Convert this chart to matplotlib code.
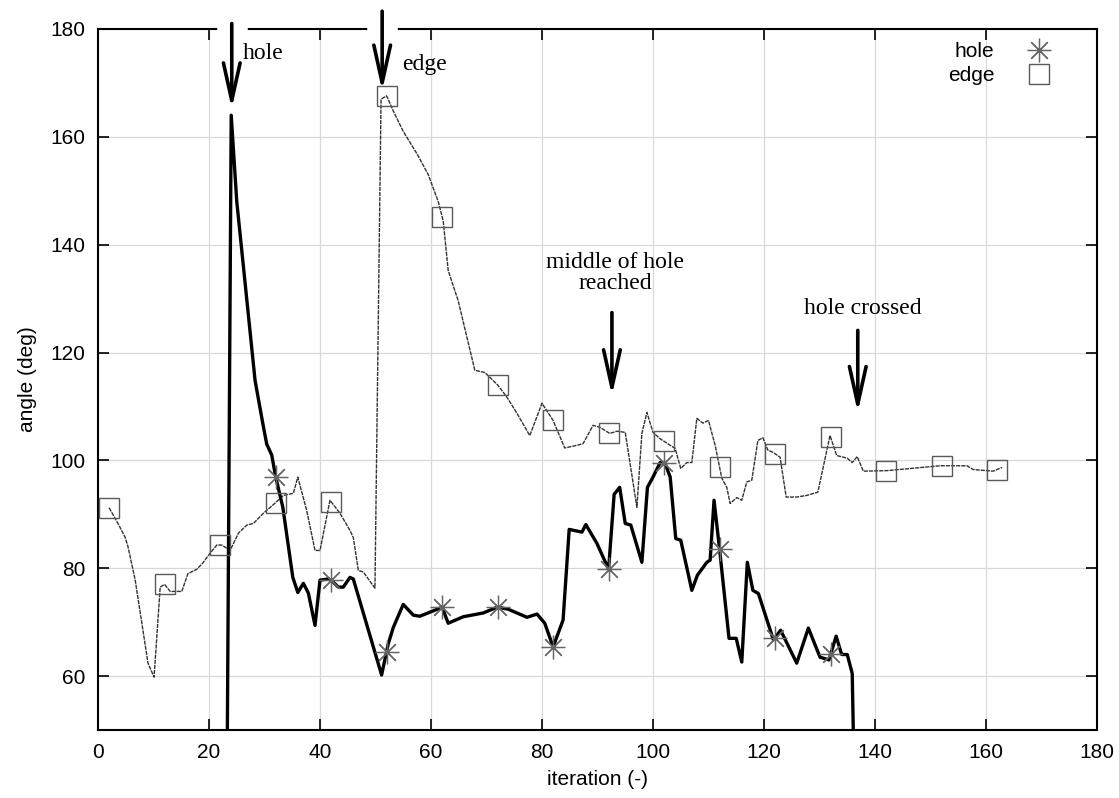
import numpy as np
import matplotlib
matplotlib.use('Agg')
import matplotlib.pyplot as plt

# ── data ────────────────────────────────────────────────────────────────────
hole_x = [23, 24, 25, 28.3, 29.7, 30.4, 31.3, 32, 33.3, 35.1, 36, 37, 37.9, 39.1,
          40, 41.5, 42, 43.3, 44.2, 45.4, 46, 51.1, 52.3, 53.2, 55, 56.8, 58,
          61.6, 62, 63.1, 65.8, 69.4, 72, 73.9, 77.3, 79.1, 80.5, 82, 83.8, 84.9,
          87.2, 87.9, 89.9, 92, 93, 94, 95, 96, 98, 99, 100, 101.3, 102.2, 103.1,
          104.1, 105, 107, 108, 109.7, 110.3, 111, 112, 113.7, 115, 116, 117, 118,
          119, 121.7, 123, 125.9, 128, 130.1, 131.7, 133, 134, 135, 135.9, 137]
hole_y = [0, 164, 148, 114.8, 106.8, 103, 101, 97, 91.3, 78.3, 75.5, 77.2, 75.4, 69.4,
          77.8, 78, 77.8, 76.5, 76.5, 78.3, 78, 60.2, 66, 69, 73.3, 71.3, 71.1,
          72.6, 72.8, 69.8, 71, 71.7, 72.8, 72.4, 70.9, 71.5, 69.8, 65.4, 70.4, 87.2,
          86.7, 88.1, 84.6, 79.8, 93.7, 95, 88.3, 88, 81.1, 95, 96.9, 99.6, 99.4, 96.9,
          85.5, 85.2, 75.9, 78.7, 81.1, 81.5, 92.6, 83.5, 67, 67, 62.6, 81.1, 75.9,
          75.3, 66.7, 68.5, 62.4, 68.9, 63.5, 63, 67.4, 64, 64, 60.5, 0]

edge_x = [2, 3.6, 4.9, 5.4, 6.7, 7.9, 9, 10.1, 11.2, 12, 13, 15.1, 16.2, 17.8, 18.9,
          20.2, 21.4, 22.3, 23.8, 25.3, 26.8, 28, 29.8, 31.6, 33.4, 35.2, 36, 37.6,
          39.1, 40, 41.8, 43.6, 45.4, 46, 46.9, 47.8, 49.9, 51, 52, 53.2, 55, 57.5,
          59.5, 61.3, 62.2, 63.1, 64.9, 67.9, 69.7, 72, 73.7, 75.5, 77.8, 80, 82,
          84.1, 86.3, 87.4, 89.2, 90.5, 92.2, 93.5, 95, 97.1, 98, 98.9, 100, 101.3,
          103.1, 104, 105, 106.1, 107, 107.9, 109, 110, 111.2, 112.4, 113.3, 113.9,
          115.1, 116, 116.9, 117.8, 118.9, 119.8, 120.7, 121.6, 122.9, 124, 125.9,
          127.7, 129.7, 131.9, 133.1, 135, 135.9, 136.8, 137.9, 142.2, 151.7, 156.6,
          157.7, 161.3, 162.9]
edge_y = [91.2, 88.3, 85.7, 84, 77.8, 69.8, 62.4, 59.8, 76.5, 77, 75.7, 75.7, 79, 79.8, 81,
          82.8, 84.3, 84.3, 83.3, 86.5, 88, 88.3, 90.2, 91.8, 93.5, 93.9, 96.9, 90.7,
          83.3, 83.3, 92.6, 90.2, 87, 85.7, 79.6, 79.3, 76.3, 167, 167.6, 164.8, 161, 156.8,
          153, 148, 144.4, 135.2, 129.6, 116.7, 116.3, 114, 111.7, 108.7, 104.6, 110.6, 107.4,
          102.3, 102.8, 103.1, 106.5, 106.1, 105, 105.4, 105.2, 91.3, 105, 108.9, 105.2, 104,
          102.8, 102.2, 98.5, 99.6, 99.6, 107.8, 106.9, 107.4, 102.8, 96.7, 95, 92,
          93.1, 92.6, 96, 96.3, 103.7, 104.2, 101.9, 101.5, 100.6, 93.2, 93.2,
          93.5, 94.1, 104.6, 100.9, 100.4, 99.6, 100.7, 98, 98.1, 99, 99,
          98.3, 98, 98.7]

hole_marks = np.arange(32, 133, 10)
edge_marks = np.arange(2, 163, 10)

# ── figure ──────────────────────────────────────────────────────────────────
plt.rcParams['font.family'] = ['Liberation Sans', 'DejaVu Sans']
fig = plt.figure(figsize=(11.19, 7.98), dpi=100)
ax = fig.add_axes([0.0876, 0.0852, 0.8927, 0.8785])

serif = ['Liberation Serif', 'DejaVu Serif']
asterisk = (8, 2, 0)

ax.plot(edge_x, edge_y, color='#333333', lw=1.0, ls=(0, (3, 0.7)), zorder=3)
ax.plot(hole_x, hole_y, color='black', lw=2.4, zorder=4)

ax.plot(hole_marks, np.interp(hole_marks, hole_x, hole_y), ls='none', marker=asterisk,
        ms=17, mew=0.9, color='#666666', zorder=5, label='hole')
ax.plot(edge_marks, np.interp(edge_marks, edge_x, edge_y), ls='none', marker='s',
        ms=15, mew=1.0, mfc='none', mec='#5a5a5a', zorder=5, label='edge')

ax.set_xlim(0, 180)
ax.set_ylim(50, 180)
ax.set_xticks(np.arange(0, 181, 20))
ax.set_yticks(np.arange(60, 181, 20))
ax.grid(True, color='#d8d8d8', lw=0.9)
ax.set_axisbelow(True)
ax.tick_params(direction='in', top=True, right=True, length=8, width=1.2,
               labelsize=15, pad=9)
for s in ax.spines.values():
    s.set_linewidth(1.5)
ax.set_xlabel('iteration (-)', fontsize=15, labelpad=6)
ax.set_ylabel('angle (deg)', fontsize=15, labelpad=10)

leg = ax.legend(loc='upper right', bbox_to_anchor=(0.963, 0.993), frameon=False,
                markerfirst=False, fontsize=15, handlelength=1.2, handletextpad=1.55,
                labelspacing=0.25, borderaxespad=0.0)

# gaps in the top frame where the arrows enter
for gx0, gx1 in [(22.0, 26.5), (49.0, 53.5)]:
    ax.plot([gx0, gx1], [180, 180], color='white', lw=4, clip_on=False, zorder=6)

arrow = dict(arrowstyle='->, head_length=1.35, head_width=0.3', lw=2.6,
             color='black', shrinkA=0, shrinkB=0, mutation_scale=20)
notes = [((24.1, 181.0), (24.1, 165.2)),
         ((51.2, 183.3), (51.2, 168.5)),
         ((92.6, 127.4), (92.6, 112.0)),
         ((136.9, 124.1), (136.9, 108.9))]
for start, tip in notes:
    ax.annotate('', xy=tip, xytext=start, arrowprops=arrow,
                annotation_clip=False, zorder=7)

ax.text(26.1, 175.4, 'hole', family=serif, fontsize=17, va='center', ha='left')
ax.text(54.8, 173.5, 'edge', family=serif, fontsize=17, va='center', ha='left')
ax.text(93.2, 134.8, 'middle of hole\nreached', family=serif, fontsize=17,
        va='center', ha='center', linespacing=1.0)
ax.text(137.8, 128.1, 'hole crossed', family=serif, fontsize=17,
        va='center', ha='center')

fig.savefig('out.png', dpi=100)
